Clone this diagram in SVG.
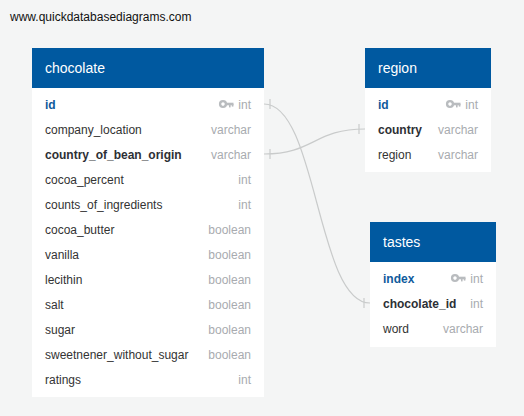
<svg xmlns="http://www.w3.org/2000/svg" width="524" height="416" viewBox="0 0 524 416">
<defs>
<style>
text{font-family:"Liberation Sans",Arial,sans-serif;}
.hdr{fill:#0059a0;}
.body{fill:#ffffff;}
.title{fill:#ffffff;font-size:14px;}
.col{fill:#333333;font-size:12px;}
.pk{fill:#0f5a9c;font-size:12px;font-weight:bold;}
.fk{fill:#2d3035;font-size:12px;font-weight:bold;}
.type{fill:#a8abaf;font-size:12px;text-anchor:end;}
.conn{fill:none;stroke:#c9cbcb;stroke-width:1.2;}
</style>
<g id="key">
<circle cx="0" cy="0" r="2.9" fill="none" stroke="#b9bcbf" stroke-width="2.4"/>
<rect x="2.5" y="-1.3" width="8" height="2.6" fill="#b9bcbf"/>
<rect x="6" y="0" width="1.6" height="3.4" fill="#b9bcbf"/>
<rect x="8.8" y="0" width="1.6" height="2.6" fill="#b9bcbf"/>
</g>
</defs>
<rect width="524" height="416" fill="#f4f5f5"/>
<text x="10" y="21" style="font-size:12px;fill:#111">www.quickdatabasediagrams.com</text>

<g id="connectors">
<path class="conn" d="M264,104 C317,104 317,303 370,303"/>
<path class="conn" d="M264,154 C314,154 314,129 365,129"/>
<line class="conn" x1="270" y1="99" x2="270" y2="109"/>
<line class="conn" x1="270" y1="149" x2="270" y2="159"/>
<line class="conn" x1="359" y1="124" x2="359" y2="134"/>
<line class="conn" x1="364" y1="298" x2="364" y2="308"/>
</g>

<g id="chocolate">
<rect class="body" x="32" y="48" width="232" height="349"/>
<rect class="hdr" x="32" y="48" width="232" height="40"/>
<text class="title" x="45" y="73">chocolate</text>
<text class="pk" x="45" y="109">id</text><use href="#key" x="223" y="104"/><text class="type" x="251" y="109">int</text>
<text class="col" x="45" y="134">company_location</text><text class="type" x="251" y="134">varchar</text>
<text class="fk" x="45" y="159">country_of_bean_origin</text><text class="type" x="251" y="159">varchar</text>
<text class="col" x="45" y="184">cocoa_percent</text><text class="type" x="251" y="184">int</text>
<text class="col" x="45" y="209">counts_of_ingredients</text><text class="type" x="251" y="209">int</text>
<text class="col" x="45" y="234">cocoa_butter</text><text class="type" x="251" y="234">boolean</text>
<text class="col" x="45" y="259">vanilla</text><text class="type" x="251" y="259">boolean</text>
<text class="col" x="45" y="284">lecithin</text><text class="type" x="251" y="284">boolean</text>
<text class="col" x="45" y="309">salt</text><text class="type" x="251" y="309">boolean</text>
<text class="col" x="45" y="334">sugar</text><text class="type" x="251" y="334">boolean</text>
<text class="col" x="45" y="359">sweetnener_without_sugar</text><text class="type" x="251" y="359">boolean</text>
<text class="col" x="45" y="384">ratings</text><text class="type" x="251" y="384">int</text>
</g>

<g id="region">
<rect class="body" x="365" y="48" width="126" height="124"/>
<rect class="hdr" x="365" y="48" width="126" height="40"/>
<text class="title" x="378" y="73">region</text>
<text class="pk" x="378" y="109">id</text><use href="#key" x="450" y="104"/><text class="type" x="478" y="109">int</text>
<text class="fk" x="378" y="134">country</text><text class="type" x="478" y="134">varchar</text>
<text class="col" x="378" y="159">region</text><text class="type" x="478" y="159">varchar</text>
</g>

<g id="tastes">
<rect class="body" x="370" y="222" width="126" height="125"/>
<rect class="hdr" x="370" y="222" width="126" height="40"/>
<text class="title" x="383" y="247">tastes</text>
<text class="pk" x="383" y="283">index</text><use href="#key" x="455" y="278"/><text class="type" x="483" y="283">int</text>
<text class="fk" x="383" y="308">chocolate_id</text><text class="type" x="483" y="308">int</text>
<text class="col" x="383" y="333">word</text><text class="type" x="483" y="333">varchar</text>
</g>
</svg>
